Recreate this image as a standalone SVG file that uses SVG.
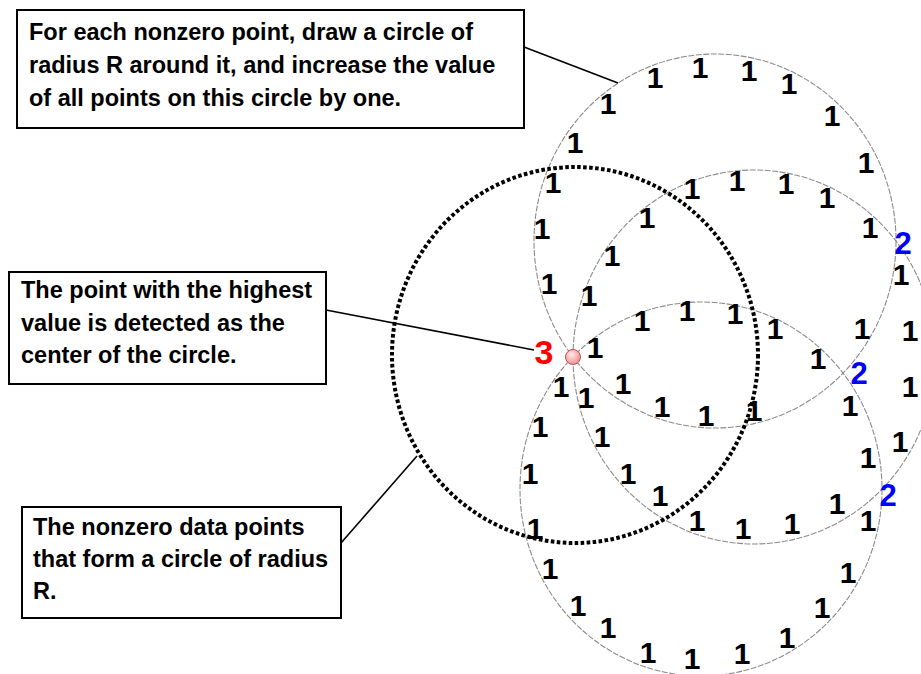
<svg xmlns="http://www.w3.org/2000/svg" width="921" height="674" viewBox="0 0 921 674">
<defs>
<radialGradient id="dotg" cx="0.4" cy="0.35" r="0.7">
<stop offset="0" stop-color="#ffe8e8"/>
<stop offset="1" stop-color="#ef8a8a"/>
</radialGradient>
<style>
.box{fill:#fff;stroke:#000;stroke-width:2}
.bt{font-family:"Liberation Sans",Arial,sans-serif;font-weight:bold;font-size:23.5px;fill:#000}
.thin{fill:none;stroke:#8c8c8c;stroke-width:1.1;stroke-dasharray:6 1.5}
.dotted{fill:none;stroke:#000;stroke-width:4;stroke-dasharray:3.6 2.4}
.con{stroke:#000;stroke-width:1.6;fill:none}
.one{font-family:"Liberation Sans",Arial,sans-serif;font-weight:bold;font-size:30px;fill:#000;text-anchor:middle}
.two{font-family:"Liberation Sans",Arial,sans-serif;font-weight:bold;font-size:31px;fill:#0000ff;text-anchor:middle}
.three{font-family:"Liberation Sans",Arial,sans-serif;font-weight:bold;font-size:34px;fill:#ff0000;text-anchor:middle}
</style>
</defs>
<rect width="921" height="674" fill="#fff"/>
<g id="circles">
<ellipse class="thin" cx="715" cy="241" rx="181" ry="187"/>
<ellipse class="thin" cx="754" cy="357" rx="181" ry="187"/>
<ellipse class="thin" cx="701" cy="489" rx="181" ry="187"/>
<ellipse id="data-circle" class="dotted" cx="575" cy="355" rx="183" ry="188"/>
</g>
<g id="connectors">
<line class="con" x1="524" y1="47" x2="618" y2="83"/>
<line class="con" x1="326" y1="310" x2="534" y2="350"/>
<line class="con" x1="341" y1="543" x2="417" y2="456"/>
</g>
<g id="box-vote">
<rect class="box" x="17" y="10" width="507" height="118"/>
<text class="bt" x="29" y="40">For each nonzero point, draw a circle of</text>
<text class="bt" x="29" y="73">radius R around it, and increase the value</text>
<text class="bt" x="29" y="106">of all points on this circle by one.</text>
</g>
<g id="box-center">
<rect class="box" x="9" y="272" width="317" height="112"/>
<text class="bt" x="21" y="298">The point with the highest</text>
<text class="bt" x="21" y="331">value is detected as the</text>
<text class="bt" x="21" y="363">center of the circle.</text>
</g>
<g id="box-data">
<rect class="box" x="22" y="507" width="319" height="111"/>
<text class="bt" x="33" y="535">The nonzero data points</text>
<text class="bt" x="33" y="567">that form a circle of radius</text>
<text class="bt" x="33" y="599">R.</text>
</g>
<g id="ones">
<text class="one" x="608" y="114">1</text>
<text class="one" x="655" y="88">1</text>
<text class="one" x="700" y="78">1</text>
<text class="one" x="749" y="81">1</text>
<text class="one" x="789" y="94">1</text>
<text class="one" x="832" y="126">1</text>
<text class="one" x="866" y="173">1</text>
<text class="one" x="575" y="153">1</text>
<text class="one" x="553" y="193">1</text>
<text class="one" x="542" y="239">1</text>
<text class="one" x="549" y="294">1</text>
<text class="one" x="647" y="228">1</text>
<text class="one" x="692" y="199">1</text>
<text class="one" x="737" y="191">1</text>
<text class="one" x="786" y="194">1</text>
<text class="one" x="827" y="208">1</text>
<text class="one" x="870" y="238">1</text>
<text class="one" x="612" y="266">1</text>
<text class="one" x="589" y="306">1</text>
<text class="one" x="642" y="331">1</text>
<text class="one" x="687" y="321">1</text>
<text class="one" x="735" y="324">1</text>
<text class="one" x="775" y="339">1</text>
<text class="one" x="818" y="369">1</text>
<text class="one" x="862" y="339">1</text>
<text class="one" x="910" y="341">1</text>
<text class="one" x="901" y="285">1</text>
<text class="one" x="595" y="358">1</text>
<text class="one" x="561" y="397">1</text>
<text class="one" x="586" y="408">1</text>
<text class="one" x="623" y="394">1</text>
<text class="one" x="662" y="417">1</text>
<text class="one" x="706" y="426">1</text>
<text class="one" x="754" y="421">1</text>
<text class="one" x="850" y="416">1</text>
<text class="one" x="910" y="397">1</text>
<text class="one" x="540" y="437">1</text>
<text class="one" x="602" y="447">1</text>
<text class="one" x="900" y="452">1</text>
<text class="one" x="868" y="468">1</text>
<text class="one" x="530" y="484">1</text>
<text class="one" x="628" y="484">1</text>
<text class="one" x="660" y="506">1</text>
<text class="one" x="535" y="539">1</text>
<text class="one" x="697" y="531">1</text>
<text class="one" x="743" y="539">1</text>
<text class="one" x="792" y="534">1</text>
<text class="one" x="837" y="514">1</text>
<text class="one" x="868" y="531">1</text>
<text class="one" x="550" y="579">1</text>
<text class="one" x="848" y="583">1</text>
<text class="one" x="578" y="616">1</text>
<text class="one" x="822" y="618">1</text>
<text class="one" x="608" y="638">1</text>
<text class="one" x="787" y="648">1</text>
<text class="one" x="648" y="663">1</text>
<text class="one" x="692" y="669">1</text>
<text class="one" x="742" y="664">1</text>
</g>
<g id="twos">
<text class="two" x="903" y="254">2</text>
<text class="two" x="859" y="384">2</text>
<text class="two" x="888" y="506">2</text>
</g>
<g id="center-point">
<text class="three" x="544" y="364">3</text>
<circle cx="573" cy="357" r="7.5" fill="url(#dotg)" stroke="#c05050" stroke-width="1"/>
</g>
</svg>
